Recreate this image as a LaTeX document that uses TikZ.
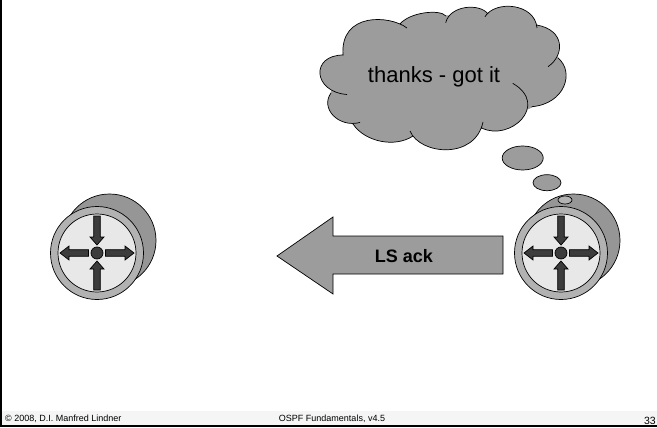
\documentclass[tikz,border=0pt]{standalone}
\usepackage{fontspec}
\setmainfont{Liberation Sans}
\definecolor{cloudgray}{HTML}{9C9C9C}
\definecolor{backgray}{HTML}{969696}
\definecolor{ringgray}{HTML}{B2B2B2}
\definecolor{facegray}{HTML}{E8E8E8}
\definecolor{arrowgray}{HTML}{3C3C3C}
\definecolor{footgray}{HTML}{F5F5F5}
\tikzset{
  outline/.style={draw=black, line width=0.7pt},
  disc/.style={circle, outline, inner sep=0pt, outer sep=0pt, minimum size=#1},
  bubble/.style={ellipse, outline, fill=cloudgray, inner sep=0pt, outer sep=0pt},
  footnote/.style={inner sep=0pt, font=\fontsize{9}{9}\selectfont, anchor=base},
  routerarrow/.style={outline, fill=arrowgray},
  router/.pic={
    \node (back) [disc=93pt, fill=backgray] at (12.5, -12.5) {};
    \node (ring) [disc=93pt, fill=ringgray] at (0, 0) {};
    \node (face) [disc=78pt, fill=facegray] at (0, 0) {};
    \node (hub) [disc=12pt, fill=arrowgray] at (0, 0) {};
    % Outward arrows
    \foreach \angle in {0, 180}
      \draw[routerarrow, rotate=\angle] (8.5, -3.3) -- (28, -3.3) -- (28, -7) -- (37, 0) -- (28, 7) -- (28, 3.3) -- (8.5, 3.3) -- cycle;
    % Inward arrows
    \foreach \angle in {90, 270}
      \draw[routerarrow, rotate=\angle] (8, 0) -- (16, -7) -- (16, -3.3) -- (37, -3.3) -- (37, 3.3) -- (16, 3.3) -- (16, 7) -- cycle;
  }
}
\usetikzlibrary{shapes.geometric}
\def\cloudarcs{
  (343.5, 55) .. controls (310, 55) and (313, 92) .. (347, 94.5)
  (331, 93) .. controls (320, 108) and (338, 128) .. (360, 122.5)
  (353, 124) .. controls (365, 142) and (395, 148) .. (413, 136)
  (410, 131) .. controls (420, 155) and (475, 160) .. (483, 122)
  (481.7, 128) .. controls (510, 142) and (550, 105) .. (512.7, 83.3)
  (531.7, 106.7) .. controls (565, 104) and (575, 72) .. (558, 58)
  (548, 66.7) .. controls (565, 55) and (565, 30) .. (536.7, 25)
  (537, 28) .. controls (535, 3) and (495, 0) .. (485, 16.7)
  (488, 14) .. controls (480, 3) and (450, 5) .. (445.7, 22.7)
  (446, 16) .. controls (440, 9) and (410, 12) .. (400, 24)
  (407, 28) .. controls (390, 15) and (340, 12) .. (343, 55)
}
\begin{document}
\begin{tikzpicture}[x=1pt, y=-1pt]
  \useasboundingbox (0, 0) rectangle (657, 428);
  % Footer
  \fill[footgray] (2, 411) rectangle (657, 425);
  \draw[line width=2pt] (1, 0) -- (1, 426) -- (657, 426);
  \node (copyright) [footnote, anchor=base west] at (5, 421) {© 2008, D.I. Manfred Lindner};
  \node (course) [footnote] at (332, 421) {OSPF Fundamentals, v4.5};
  \node (page) [footnote, anchor=base east, font=\fontsize{10.5}{10.5}\selectfont] at (656, 424) {33};
  % Routers
  \pic (left) at (97, 253) {router};
  \pic (right) at (561, 253) {router};
  % Cloud
  \fill[cloudgray] \cloudarcs;
  \filldraw[cloudgray, line width=1pt] (343, 55) -- (400, 24) -- (446, 16) -- (488, 14) -- (537, 25) -- (558, 58) -- (532, 107) -- (483, 128) -- (413, 136) -- (353, 124) -- (331, 93) -- cycle;
  \draw[line width=0.7pt] \cloudarcs;
  \node (thanks) [inner sep=0pt, font=\fontsize{22}{22}\selectfont] at (434, 77) {thanks - got it};
  % Thought bubbles
  \node (bubbleA) [bubble, minimum width=41pt, minimum height=24pt] at (522.7, 158) {};
  \node (bubbleB) [bubble, minimum width=28pt, minimum height=16pt] at (547, 182.7) {};
  \node (bubbleC) [bubble, fill=ringgray, minimum width=14pt, minimum height=8pt] at (565, 200) {};
  % Big arrow
  \draw[outline, fill=cloudgray] (277, 256) -- (333, 217) -- (333, 236) -- (503, 236) -- (503, 274) -- (333, 274) -- (333, 294) -- cycle;
  \node (lsack) [inner sep=0pt, font=\fontsize{18}{18}\bfseries\selectfont] at (404, 256) {LS ack};
\end{tikzpicture}
\end{document}
